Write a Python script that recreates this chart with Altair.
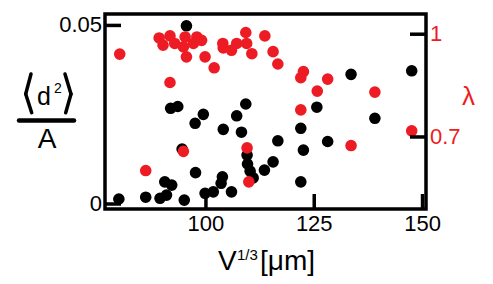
import altair as alt
import pandas as pd

# black series: <d^2>/A vs V^(1/3)
bx = [95.5, 91.85, 93.5, 99.4, 97.5, 109.2, 107.1, 104.0, 108.2, 94.5,
      109.5, 109.6, 110.2, 110.9, 113.5, 115.5, 116.6, 97.6, 103.8, 103.5,
      90.5, 92.1, 90.9, 89.4, 95.0, 79.9, 86.1, 99.8, 101.7, 105.9,
      133.5, 147.5, 125.6, 139.0, 121.9, 128.1, 122.5, 121.9]
by = [0.0499, 0.0268, 0.0273, 0.0251, 0.0226, 0.0280, 0.0247, 0.0209, 0.0201, 0.0154,
      0.0137, 0.0112, 0.0092, 0.0073, 0.0095, 0.0118, 0.0177, 0.0088, 0.0076, 0.0058,
      0.0062, 0.0053, 0.0025, 0.0016, 0.0011, 0.0014, 0.0019, 0.0030, 0.0034, 0.0034,
      0.0363, 0.0373, 0.0271, 0.0240, 0.0212, 0.0175, 0.0151, 0.0062]

# red series: lambda vs V^(1/3)
rx = [80.1, 89.2, 91.7, 92.8, 90.1, 95.2, 94.8, 97.9, 99.0, 97.1,
      95.5, 99.8, 101.9, 103.9, 104.0, 105.9, 107.1, 109.2, 109.4, 110.6,
      113.6, 115.5, 116.6, 122.5, 121.9, 128.1, 125.7, 139.0, 121.9, 147.5,
      133.5, 91.7, 94.8, 109.5, 86.1, 109.9]
ry = [0.942, 0.989, 0.995, 0.973, 0.968, 0.992, 0.963, 0.992, 0.982, 0.973,
      0.934, 0.934, 0.902, 0.973, 0.960, 0.953, 0.973, 1.005, 0.973, 0.943,
      0.995, 0.949, 0.913, 0.891, 0.873, 0.869, 0.834, 0.831, 0.779, 0.718,
      0.675, 0.859, 0.658, 0.668, 0.602, 0.569]

x_ticks = [100, 125, 150]
x_tick_labels = ["100", "125", "150"]
left_ticks = [0, 0.05]
left_tick_labels = ["0", "0.05"]
right_ticks = [0.7, 1.0]
right_tick_labels = ["0.7", "1"]

W, H = 321, 195
FONT = "Liberation Sans"
RED = "#ed1c24"
TL = 16

xscale = alt.Scale(domain=[76.7, 150.8], nice=False, zero=False)
lscale = alt.Scale(domain=[-0.0014, 0.0532], nice=False, zero=False)
rscale = alt.Scale(domain=[0.4897, 1.059], nice=False, zero=False)

black = pd.DataFrame({"x": bx, "y": by})
red = pd.DataFrame({"x": rx, "lam": ry})
one = pd.DataFrame({"a": [0]})
xt_df = pd.DataFrame({"t": x_ticks, "lab": x_tick_labels})
lt_df = pd.DataFrame({"t": left_ticks, "lab": left_tick_labels})
rt_df = pd.DataFrame({"t": right_ticks, "lab": right_tick_labels})

pts_b = alt.Chart(black).mark_circle(size=135, color="black", opacity=1).encode(
    x=alt.X("x:Q", scale=xscale, axis=None),
    y=alt.Y("y:Q", scale=lscale, axis=None),
)
lt = alt.Chart(lt_df).mark_rule(color="black", strokeWidth=3.5).encode(
    y=alt.Y("t:Q", scale=lscale, axis=None), x=alt.value(0), x2=alt.value(TL)
)
lt_lab = alt.Chart(lt_df).mark_text(font=FONT, fontSize=22, align="right",
                                     baseline="middle", color="black").encode(
    y=alt.Y("t:Q", scale=lscale, axis=None), x=alt.value(-3), text="lab:N"
)
xt = alt.Chart(xt_df).mark_rule(color="black", strokeWidth=3.5).encode(
    x=alt.X("t:Q", scale=xscale, axis=None), y=alt.value(H - 15), y2=alt.value(H)
)
xt_lab = alt.Chart(xt_df).mark_text(font=FONT, fontSize=22, align="center",
                                     baseline="top", color="black").encode(
    x=alt.X("t:Q", scale=xscale, axis=None), y=alt.value(H + 5), text="lab:N"
)
left = alt.layer(pts_b, lt, lt_lab, xt, xt_lab)

pts_r = alt.Chart(red).mark_circle(size=135, color=RED, opacity=1).encode(
    x=alt.X("x:Q", scale=xscale, axis=None),
    y=alt.Y("lam:Q", scale=rscale, axis=None),
)
rt = alt.Chart(rt_df).mark_rule(color="black", strokeWidth=3.5).encode(
    y=alt.Y("t:Q", scale=rscale, axis=None), x=alt.value(W - TL), x2=alt.value(W)
)
rt_lab = alt.Chart(rt_df).mark_text(font=FONT, fontSize=22, align="left",
                                     baseline="middle", color=RED).encode(
    y=alt.Y("t:Q", scale=rscale, axis=None), x=alt.value(W + 4), text="lab:N"
)
right = alt.layer(pts_r, rt, rt_lab)


def txt(s, x, y, size, color="black", align="left"):
    return alt.Chart(one).mark_text(text=s, font=FONT, fontSize=size, align=align,
                                    baseline="alphabetic", color=color).encode(
        x=alt.value(x), y=alt.value(y))


def seg(x1, y1, x2, y2, w=3.5):
    return alt.Chart(one).mark_rule(color="black", strokeWidth=w, strokeCap="round").encode(
        x=alt.value(x1), y=alt.value(y1), x2=alt.value(x2), y2=alt.value(y2))


labels = [
    txt("V", 113, 256, 28),
    txt("1/3", 132, 246, 15),
    txt("[μm]", 155, 256, 28),
    txt("d", -68, 91, 25),
    txt("2", -51, 79, 14),
    txt("A", -58, 134, 28, align="center"),
    txt("λ", 363.5, 91, 26, color=RED, align="center"),
    seg(-74, 60, -79.3, 80), seg(-79.3, 80, -73.3, 98.7),
    seg(-40, 60, -34, 80), seg(-34, 80, -39.3, 98.7),
    seg(-86, 106.5, -31, 106.5, w=4.5),
]

chart = alt.layer(left, right, *labels).resolve_scale(y="independent").properties(
    width=W, height=H,
    autosize=alt.AutoSizeParams(type="none"),
    padding={"left": 97, "top": 6, "right": 59, "bottom": 67},
).configure_view(stroke="black", strokeWidth=3.5)

chart.save("out.html", embed_options={"renderer": "svg", "actions": False})
